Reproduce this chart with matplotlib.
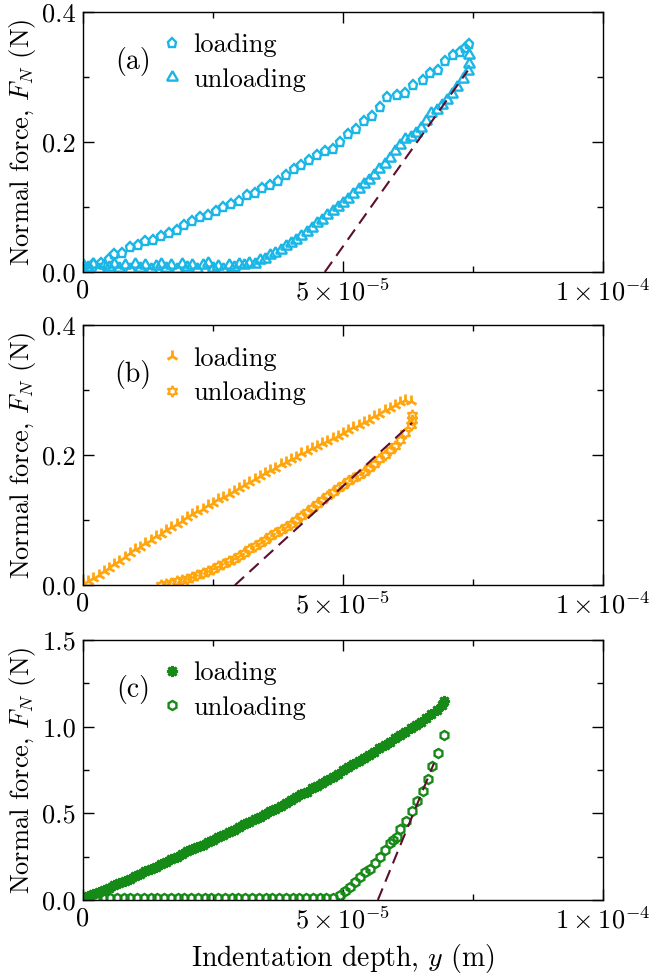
import matplotlib
matplotlib.use('Agg')
import matplotlib.pyplot as plt
from matplotlib.ticker import FixedLocator

# Fonte estilo LaTeX (Computer Modern)
plt.rcParams['font.family'] = 'cmr10'
plt.rcParams['mathtext.fontset'] = 'cm'
plt.rcParams['axes.unicode_minus'] = False
plt.rcParams['axes.formatter.use_mathtext'] = True

ESCALA = 1e-5  # profundidades abaixo em unidades de 1e-5 m

# ---------------- Painel (a) ----------------
a_carga_x = [0.0, 0.1, 0.2, 0.35, 0.5, 0.6, 0.75, 0.9, 1.05, 1.2, 1.35, 1.5, 1.65, 1.8,
             1.95, 2.1, 2.25, 2.4, 2.55, 2.7, 2.85, 3.0, 3.15, 3.3, 3.45, 3.6, 3.75, 3.9,
             4.05, 4.2, 4.35, 4.5, 4.65, 4.8, 4.95, 5.1, 5.25, 5.4, 5.55, 5.71, 5.84, 6.03,
             6.19, 6.35, 6.54, 6.67, 6.83, 6.96, 7.12, 7.25, 7.35, 7.43]
a_carga_y = [0.005, 0.008, 0.012, 0.014, 0.020, 0.027, 0.030, 0.038, 0.042, 0.048, 0.050,
             0.056, 0.060, 0.065, 0.072, 0.078, 0.084, 0.088, 0.094, 0.100, 0.104, 0.110,
             0.118, 0.122, 0.130, 0.134, 0.140, 0.150, 0.158, 0.164, 0.172, 0.180, 0.186,
             0.190, 0.200, 0.212, 0.220, 0.232, 0.240, 0.254, 0.270, 0.272, 0.275, 0.288,
             0.295, 0.307, 0.311, 0.324, 0.334, 0.339, 0.344, 0.351]

a_descarga_x = [0.0, 0.1, 0.2, 0.3, 0.4, 0.5, 0.6, 0.7, 0.8, 0.9, 1.0, 1.1, 1.2, 1.3, 1.4,
                1.5, 1.6, 1.7, 1.8, 1.9, 2.0, 2.1, 2.2, 2.3, 2.4, 2.5, 2.6, 2.7, 2.8, 2.9,
                3.0, 3.1, 3.2, 3.3, 3.4, 3.5, 3.6, 3.7, 3.8, 3.9, 4.0, 4.1, 4.2, 4.3, 4.4,
                4.5, 4.6, 4.7, 4.8, 4.9, 5.0, 5.1, 5.2, 5.3, 5.4, 5.5, 5.6, 5.7, 5.8, 5.9,
                6.0, 6.1, 6.2, 6.3, 6.4, 6.5, 6.6, 6.7, 6.8, 6.9, 7.0, 7.1, 7.2, 7.3, 7.4,
                7.43, 7.43]
a_descarga_y = [0.010, 0.006, 0.012, 0.005, 0.011, 0.007, 0.013, 0.006, 0.010, 0.005,
                0.012, 0.006, 0.011, 0.005, 0.009, 0.013, 0.006, 0.010, 0.005, 0.012,
                0.007, 0.011, 0.005, 0.010, 0.014, 0.006, 0.009, 0.005, 0.011, 0.008,
                0.012, 0.010, 0.014, 0.013, 0.018, 0.020, 0.026, 0.030, 0.034, 0.040,
                0.044, 0.050, 0.055, 0.062, 0.068, 0.075, 0.080, 0.087, 0.094, 0.100,
                0.106, 0.112, 0.120, 0.127, 0.135, 0.142, 0.150, 0.158, 0.166, 0.175,
                0.186, 0.196, 0.205, 0.208, 0.214, 0.222, 0.232, 0.244, 0.250, 0.257,
                0.264, 0.274, 0.284, 0.297, 0.310, 0.320, 0.334]

a_ajuste_x = [4.65, 7.40]
a_ajuste_y = [0.0, 0.31]

# ---------------- Painel (b) ----------------
b_carga_x = [0.0, 0.1, 0.2, 0.3, 0.4, 0.5, 0.6, 0.7, 0.8, 0.9, 1.0, 1.1, 1.2, 1.3, 1.4,
             1.5, 1.6, 1.7, 1.8, 1.9, 2.0, 2.1, 2.2, 2.3, 2.4, 2.5, 2.6, 2.7, 2.8, 2.9,
             3.0, 3.1, 3.2, 3.3, 3.4, 3.5, 3.6, 3.7, 3.8, 3.9, 4.0, 4.1, 4.2, 4.3, 4.4,
             4.5, 4.6, 4.7, 4.8, 4.9, 5.0, 5.1, 5.2, 5.3, 5.4, 5.5, 5.6, 5.7, 5.8, 5.9,
             6.0, 6.1, 6.2, 6.3]
b_carga_y = [0.002, 0.006, 0.011, 0.016, 0.022, 0.027, 0.033, 0.038, 0.044, 0.049,
             0.055, 0.059, 0.065, 0.069, 0.075, 0.079, 0.085, 0.089, 0.095, 0.099,
             0.105, 0.109, 0.114, 0.118, 0.123, 0.127, 0.132, 0.136, 0.141, 0.145,
             0.150, 0.154, 0.159, 0.163, 0.168, 0.172, 0.177, 0.181, 0.186, 0.190,
             0.195, 0.198, 0.203, 0.206, 0.211, 0.214, 0.219, 0.222, 0.227, 0.230,
             0.235, 0.239, 0.243, 0.247, 0.251, 0.255, 0.260, 0.264, 0.269, 0.273,
             0.278, 0.282, 0.285, 0.284]

b_descarga_x = [1.5, 1.6, 1.7, 1.8, 1.9, 2.0, 2.1, 2.2, 2.3, 2.4, 2.5, 2.6, 2.7, 2.8, 2.9,
                3.0, 3.1, 3.2, 3.3, 3.4, 3.5, 3.6, 3.7, 3.8, 3.9, 4.0, 4.1, 4.2, 4.3, 4.4,
                4.5, 4.6, 4.7, 4.8, 4.9, 5.0, 5.1, 5.2, 5.3, 5.4, 5.5, 5.6, 5.7, 5.8, 5.9,
                6.0, 6.1, 6.2, 6.3, 6.33, 6.33]
b_descarga_y = [0.000, 0.002, 0.004, 0.006, 0.008, 0.010, 0.013, 0.016, 0.019, 0.022,
                0.025, 0.029, 0.033, 0.037, 0.041, 0.045, 0.050, 0.055, 0.060, 0.065,
                0.070, 0.075, 0.080, 0.085, 0.090, 0.095, 0.101, 0.107, 0.113, 0.119,
                0.125, 0.131, 0.137, 0.143, 0.149, 0.155, 0.160, 0.165, 0.170, 0.175,
                0.181, 0.187, 0.194, 0.201, 0.208, 0.215, 0.224, 0.235, 0.246, 0.255,
                0.262]

b_ajuste_x = [2.92, 6.33]
b_ajuste_y = [0.0, 0.25]

# ---------------- Painel (c) ----------------
c_carga_x = [0.0, 0.1, 0.2, 0.3, 0.4, 0.5, 0.6, 0.7, 0.8, 0.9, 1.0, 1.1, 1.2, 1.3, 1.4,
             1.5, 1.6, 1.7, 1.8, 1.9, 2.0, 2.1, 2.2, 2.3, 2.4, 2.5, 2.6, 2.7, 2.8, 2.9,
             3.0, 3.1, 3.2, 3.3, 3.4, 3.5, 3.6, 3.7, 3.8, 3.9, 4.0, 4.1, 4.2, 4.3, 4.4,
             4.5, 4.6, 4.7, 4.8, 4.9, 5.0, 5.1, 5.2, 5.3, 5.4, 5.5, 5.6, 5.7, 5.8, 5.9,
             6.0, 6.1, 6.2, 6.3, 6.4, 6.5, 6.6, 6.7, 6.8, 6.9, 6.95]
c_carga_y = [0.010, 0.022, 0.035, 0.048, 0.058, 0.072, 0.084, 0.098, 0.110, 0.124,
             0.138, 0.150, 0.165, 0.178, 0.193, 0.206, 0.221, 0.234, 0.250, 0.268,
             0.285, 0.292, 0.305, 0.318, 0.333, 0.346, 0.362, 0.376, 0.392, 0.405,
             0.420, 0.436, 0.452, 0.465, 0.482, 0.497, 0.512, 0.528, 0.544, 0.562,
             0.578, 0.594, 0.610, 0.626, 0.644, 0.660, 0.677, 0.694, 0.712, 0.730,
             0.748, 0.766, 0.784, 0.802, 0.820, 0.839, 0.857, 0.876, 0.895, 0.914,
             0.933, 0.952, 0.972, 0.991, 1.010, 1.030, 1.050, 1.072, 1.095, 1.125,
             1.150]

c_descarga_x = [0.00, 0.13, 0.26, 0.39, 0.52, 0.65, 0.78, 0.91, 1.04, 1.17, 1.30, 1.43,
                1.56, 1.69, 1.82, 1.95, 2.08, 2.21, 2.34, 2.47, 2.60, 2.73, 2.86, 2.99,
                3.12, 3.25, 3.38, 3.51, 3.64, 3.77, 3.90, 4.03, 4.16, 4.29, 4.42, 4.55,
                4.68, 4.81, 4.94, 5.03, 5.13, 5.23, 5.33, 5.43, 5.52, 5.62, 5.71, 5.81,
                5.90, 5.97, 6.03, 6.10, 6.22, 6.32, 6.42, 6.53, 6.63, 6.72, 6.82, 6.95]
c_descarga_y = [0.012, 0.010, 0.011, 0.009, 0.012, 0.010, 0.011, 0.009, 0.010, 0.012,
                0.010, 0.011, 0.009, 0.012, 0.010, 0.011, 0.010, 0.009, 0.012, 0.010,
                0.011, 0.010, 0.009, 0.012, 0.010, 0.011, 0.010, 0.012, 0.009, 0.011,
                0.010, 0.012, 0.010, 0.011, 0.009, 0.012, 0.011, 0.014, 0.030, 0.050,
                0.077, 0.105, 0.135, 0.160, 0.180, 0.215, 0.250, 0.290, 0.330, 0.345,
                0.365, 0.410, 0.456, 0.515, 0.573, 0.630, 0.700, 0.775, 0.850, 0.950]

c_ajuste_x = [5.67, 6.75]
c_ajuste_y = [0.0, 0.79]

# Rótulos e eixos
rotulos_painel = ['(a)', '(b)', '(c)']
x_ticks = [0, 5e-5, 1e-4]
x_rotulos = ['0', r'$5\times10^{-5}$', r'$1\times10^{-4}$']
y_ticks_ab = [0.0, 0.2, 0.4]
y_rotulos_ab = ['0.0', '0.2', '0.4']
y_ticks_c = [0.0, 0.5, 1.0, 1.5]
y_rotulos_c = ['0.0', '0.5', '1.0', '1.5']

COR_AJUSTE = '#5c0f2f'


def em_metros(valores):
    return [v * ESCALA for v in valores]


# cor e marcadores de cada painel
paineis = [
    dict(cx=a_carga_x, cy=a_carga_y, dx=a_descarga_x, dy=a_descarga_y,
         fx=a_ajuste_x, fy=a_ajuste_y, cor='#1ab6e6',
         mc=dict(marker='p', ms=6.5, mfc='none', mew=1.7),
         md=dict(marker=(3, 1, 0), ms=9, mfc='none', mew=1.7),
         yt=y_ticks_ab, yl=y_rotulos_ab, ymax=0.4, ymin_t=[0.1, 0.3]),
    dict(cx=b_carga_x, cy=b_carga_y, dx=b_descarga_x, dy=b_descarga_y,
         fx=b_ajuste_x, fy=b_ajuste_y, cor='#ffa60f',
         mc=dict(marker='2', ms=9, mew=2.0),
         md=dict(marker=(6, 1, 0), ms=8, mfc='none', mew=1.5),
         yt=y_ticks_ab, yl=y_rotulos_ab, ymax=0.4, ymin_t=[0.1, 0.3]),
    dict(cx=c_carga_x, cy=c_carga_y, dx=c_descarga_x, dy=c_descarga_y,
         fx=c_ajuste_x, fy=c_ajuste_y, cor='#168a16',
         mc=dict(marker=(8, 2, 0), ms=8, mew=2.0),
         md=dict(marker='h', ms=6.5, mfc='none', mew=1.7),
         yt=y_ticks_c, yl=y_rotulos_c, ymax=1.5, ymin_t=[0.25, 0.75, 1.25]),
]

fig = plt.figure(figsize=(6.59, 9.77), dpi=100)
baixos = [0.7216, 0.401, 0.0788]

for i, p in enumerate(paineis):
    ax = fig.add_axes([0.126, baixos[i], 0.789, 0.266])

    ax.plot(em_metros(p['fx']), p['fy'], linestyle=(0, (6, 3.5)), color=COR_AJUSTE,
            linewidth=1.5, zorder=3)
    ax.plot(em_metros(p['cx']), p['cy'], linestyle='none', color=p['cor'],
            mec=p['cor'], label='loading', zorder=2, **p['mc'])
    ax.plot(em_metros(p['dx']), p['dy'], linestyle='none', color=p['cor'],
            mec=p['cor'], label='unloading', zorder=2, **p['md'])

    ax.set_xlim(0, 1e-4)
    ax.set_ylim(0, p['ymax'])
    ax.set_xticks(x_ticks)
    ax.set_xticklabels(x_rotulos)
    ax.xaxis.set_minor_locator(FixedLocator([2.5e-5, 7.5e-5]))
    ax.set_yticks(p['yt'])
    ax.set_yticklabels(p['yl'])
    ax.yaxis.set_minor_locator(FixedLocator(p['ymin_t']))
    ax.tick_params(which='both', direction='in', top=True, right=True, labelsize=19)
    ax.tick_params(which='major', length=8, width=1, pad=5)
    ax.tick_params(which='minor', length=4, width=1)
    for s in ax.spines.values():
        s.set_linewidth(1)

    ax.set_ylabel(r'Normal force, $F_N$ (N)', fontsize=19, labelpad=3)

    ax.legend(loc='upper left', bbox_to_anchor=(0.125, 0.958), frameon=False,
              fontsize=19, handlelength=1.0, handletextpad=0.3,
              labelspacing=0.4, borderaxespad=0)
    ax.text(0.096, 0.81, rotulos_painel[i], transform=ax.transAxes,
            ha='center', va='center', fontsize=20)

    if i == 2:
        ax.set_xlabel(r'Indentation depth, $y$ (m)', fontsize=20, labelpad=6)

fig.savefig('out.png', dpi=100)
plt.close()
